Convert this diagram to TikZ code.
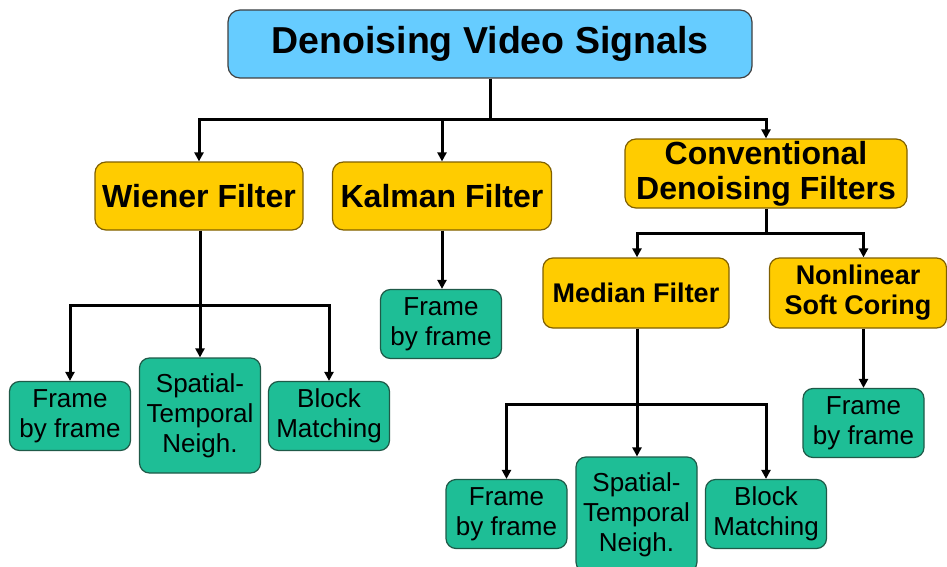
\documentclass[tikz,border=0pt]{standalone}
\usepackage{fontspec}
\setmainfont{Liberation Sans}
\usetikzlibrary{arrows.meta}
\definecolor{skyfill}{HTML}{66CCFF}
\definecolor{goldfill}{HTML}{FFCC00}
\definecolor{goldedge}{HTML}{806000}
\definecolor{tealfill}{HTML}{1EBE96}
\definecolor{tealedge}{HTML}{1F5A48}
\tikzset{
  rootbox/.style={draw=black!75, fill=skyfill, line width=1.2pt, rounded corners=12pt,
    minimum width=524pt, minimum height=68pt, align=center,
    font=\fontsize{37.5}{42}\selectfont\bfseries},
  mainbox/.style={draw=goldedge, fill=goldfill, line width=1.2pt, rounded corners=11pt,
    minimum height=68pt, align=center, inner sep=2pt,
    font=\fontsize{32}{35}\selectfont\bfseries},
  subbox/.style={draw=goldedge, fill=goldfill, line width=1.2pt, rounded corners=10pt,
    minimum height=70pt, align=center, inner sep=2pt,
    font=\fontsize{27}{30}\selectfont\bfseries},
  leafbox/.style={draw=tealedge, fill=tealfill, line width=1.2pt, rounded corners=10pt,
    minimum width=121pt, minimum height=69pt, align=center, inner sep=1pt,
    font=\fontsize{26}{30}\selectfont},
  wire/.style={line width=3pt, draw=black},
  arrowwire/.style={wire, -{Triangle[length=9pt,width=9pt]}},
}
\begin{document}
\begin{tikzpicture}[x=1pt, y=-1pt]
\useasboundingbox (0,0) rectangle (947,567);

% root
\node[rootbox] (root) at (490,44) {Denoising Video Signals};

% first level
\node[mainbox, minimum width=208pt] (wiener) at (199,196) {Wiener Filter};
\node[mainbox, minimum width=219pt] (kalman) at (442,196) {Kalman Filter};
\node[mainbox, minimum width=282pt, minimum height=69pt] (conv) at (766,173.5)
  {Conventional\\Denoising Filters};

% second level under the conventional filters
\node[subbox, minimum width=186pt] (median) at (636,293) {Median Filter};
\node[subbox, minimum width=177pt] (soft) at (858,293) {Nonlinear\\Soft Coring};

% leaves of the Wiener filter
\node[leafbox] (wframe) at (70,416) {Frame\\by frame};
\node[leafbox, minimum height=115pt] (wspat) at (200,415.5) {Spatial-\\Temporal\\Neigh.};
\node[leafbox] (wblock) at (329,416) {Block\\Matching};

% leaf of the Kalman filter
\node[leafbox] (kframe) at (441,324) {Frame\\by frame};

% leaves of the median filter
\node[leafbox] (mframe) at (506.5,514) {Frame\\by frame};
\node[leafbox, minimum height=115pt] (mspat) at (636.5,514.5) {Spatial-\\Temporal\\Neigh.};
\node[leafbox] (mblock) at (766,514) {Block\\Matching};

% leaf of the soft coring
\node[leafbox] (sframe) at (863.5,423) {Frame\\by frame};

% junction points of the tree
\coordinate (j0) at (490,120);
\coordinate (jw) at (200,305);
\coordinate (jc) at (766,233);
\coordinate (jm) at (637,404);

% root to first level
\draw[wire] (root.south) -- (j0);
\draw[arrowwire] (j0) -| (wiener.north);
\draw[arrowwire] (j0) -| (conv.north);
\draw[arrowwire] (kalman.north |- j0) -- (kalman.north);

% Wiener filter branches
\draw[wire] (wiener.south -| jw) -- (jw);
\draw[arrowwire] (jw) -| (wframe.north);
\draw[arrowwire] (jw) -| (wblock.north);
\draw[arrowwire] (jw) -- (wspat.north -| jw);

% Kalman filter branch
\draw[arrowwire] (kalman.south) -- (kframe.north -| kalman.south);

% conventional filters branches
\draw[wire] (conv.south) -- (jc);
\draw[arrowwire] (jc) -| (median.north -| jm);
\draw[arrowwire] (jc) -| (soft.north -| sframe.north);

% median filter branches
\draw[wire] (median.south -| jm) -- (jm);
\draw[arrowwire] (jm) -| (mframe.north);
\draw[arrowwire] (jm) -| (mblock.north);
\draw[arrowwire] (jm) -- (mspat.north -| jm);

% soft coring branch
\draw[arrowwire] (soft.south -| sframe.north) -- (sframe.north);
\end{tikzpicture}
\end{document}
